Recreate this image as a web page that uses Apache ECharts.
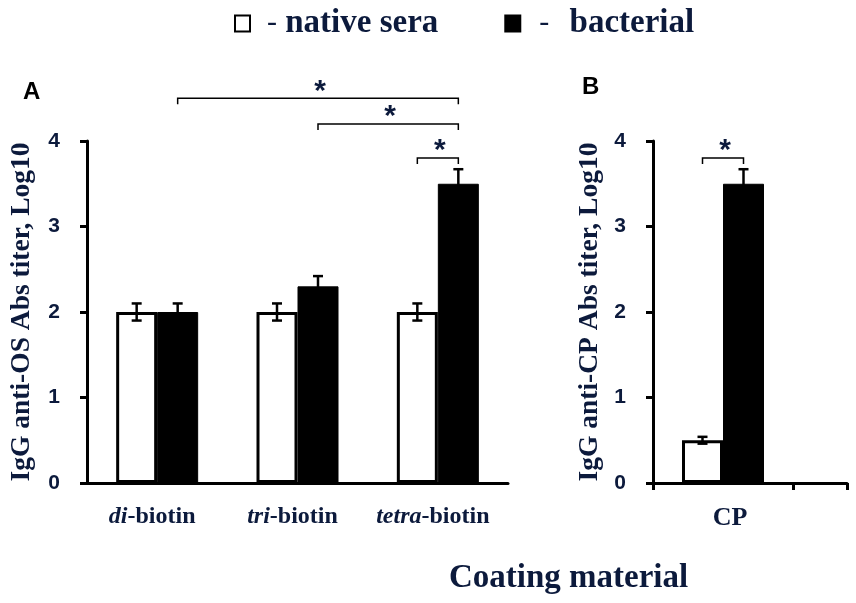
<!DOCTYPE html>
<meta charset="utf-8">
<style>
html, body { margin: 0; padding: 0; background: #fff; }
#main { width: 856px; height: 603px; }
</style>

<div id="main"></div>

<script src="https://cdn.jsdelivr.net/npm/echarts@6/dist/echarts.min.js"></script>
<script>

var seriesNames = ['native sera', 'bacterial'];
var yTicks = [0, 1, 2, 3, 4];

// panel A - oligosaccharide conjugates
var categoriesA = ['di-biotin', 'tri-biotin', 'tetra-biotin'];
var nativeA = [2.0, 2.0, 2.0];
var nativeErrA = [0.1, 0.1, 0.1];
var bacterialA = [2.0, 2.3, 3.5];
var bacterialErrA = [0.1, 0.12, 0.17];
// [category, series] to [category, series], bracket height (Log10)
var bracketsA = [
    [0, 1, 2, 1, 4.5],
    [1, 1, 2, 1, 4.2],
    [2, 0, 2, 1, 3.8]
];

// panel B - capsular polysaccharide
var categoriesB = ['CP'];
var nativeB = [0.5];
var nativeErrB = [0.04];
var bacterialB = [3.5];
var bacterialErrB = [0.17];
var bracketsB = [
    [0, 0, 0, 1, 3.8]
];

var BAR_W = 41;
var TXT = '#0c1a3c';
var SERIF = '"Liberation Serif", "Times New Roman", serif';
var SANS = '"Liberation Sans", Arial, sans-serif';

function errData(vals, errs, side) {
    return vals.map(function (v, i) { return [i, v, errs[i], side]; });
}

// shift = 0 on the category axis, 0.5 on panel B value axis
function errorRender(shift) {
    return function (params, api) {
        var cat = api.value(0) + shift, v = api.value(1), e = api.value(2);
        var off = (api.value(3) === 0 ? -1 : 1) * BAR_W / 2;
        var top = api.coord([cat, v + e]);
        var bot = api.coord([cat, v - e]);
        var x = top[0] + off;
        var st = { stroke: '#000', lineWidth: 2.5 };
        return {
            type: 'group',
            children: [
                { type: 'line', shape: { x1: x, y1: top[1], x2: x, y2: bot[1] }, style: st },
                { type: 'line', shape: { x1: x - 5, y1: top[1], x2: x + 5, y2: top[1] }, style: st },
                { type: 'line', shape: { x1: x - 5, y1: bot[1], x2: x + 5, y2: bot[1] }, style: st }
            ]
        };
    };
}

function bracketRender(shift) {
    return function (params, api) {
        var l = api.coord([api.value(0) + shift, api.value(4)]);
        var r = api.coord([api.value(2) + shift, api.value(4)]);
        var x1 = l[0] + (api.value(1) === 0 ? -1 : 1) * BAR_W / 2;
        var x2 = r[0] + (api.value(3) === 0 ? -1 : 1) * BAR_W / 2;
        var y = l[1];
        return {
            type: 'group',
            children: [
                {
                    type: 'polyline',
                    shape: { points: [[x1, y + 6], [x1, y], [x2, y], [x2, y + 6]] },
                    style: { stroke: '#000', lineWidth: 1.5, fill: null }
                },
                {
                    type: 'text', x: (x1 + x2) / 2 + 2, y: y - 7,
                    style: { text: '*', font: 'bold 30px ' + SANS, fill: TXT, textAlign: 'center', textVerticalAlign: 'middle' }
                }
            ]
        };
    };
}

var yAxisBase = {
    type: 'value', min: 0, max: 4, interval: 1,
    nameLocation: 'middle', nameRotate: 90,
    nameTextStyle: { fontFamily: SERIF, fontWeight: 'bold', fontSize: 27.5, color: TXT },
    axisLine: { show: true, lineStyle: { color: '#000', width: 3 } },
    axisTick: { show: true, length: 7, lineStyle: { color: '#000', width: 3 } },
    axisLabel: { margin: 27, fontFamily: SANS, fontWeight: 'bold', fontSize: 21, color: TXT },
    splitLine: { show: false }
};

var maxB = 194 / 140;

var chart = echarts.init(document.getElementById('main'));

chart.setOption({
    animation: false,
    backgroundColor: '#fff',
    legend: {
        data: seriesNames,
        left: 229, top: 2,
        icon: 'rect', itemWidth: 15, itemHeight: 16, itemGap: 66,
        formatter: function (name) {
            return (name === seriesNames[0] ? '{d|-} ' : '{d2|-} ') + name;
        },
        textStyle: {
            fontFamily: SERIF, fontWeight: 'bold', fontSize: 33, color: TXT,
            rich: {
                d: { fontFamily: SERIF, fontWeight: 'normal', fontSize: 30, color: TXT, padding: [0, 0, 0, 12] },
                d2: { fontFamily: SERIF, fontWeight: 'normal', fontSize: 30, color: TXT, padding: [0, 12, 0, 14] }
            }
        }
    },
    graphic: [
        { type: 'text', left: 23, top: 80, style: { text: 'A', font: 'bold 24px ' + SANS, fill: '#000' } },
        { type: 'text', left: 582, top: 75, style: { text: 'B', font: 'bold 24px ' + SANS, fill: '#000' } },
        { type: 'text', left: 449, top: 562, style: { text: 'Coating material', font: 'bold 33px ' + SERIF, fill: TXT } }
    ],
    grid: [
        { left: 87, top: 141, width: 421, height: 342 },
        { left: 653, top: 141, width: 194, height: 342 }
    ],
    xAxis: [
        {
            gridIndex: 0, type: 'category', data: categoriesA,
            axisLine: { lineStyle: { color: '#000', width: 3 } },
            axisTick: { length: 7, lineStyle: { color: '#000', width: 3 } },
            axisLabel: {
                interval: 0, hideOverlap: false,
                margin: 22, color: TXT, fontFamily: SERIF, fontWeight: 'bold', fontSize: 24,
                padding: [0, 10, 0, 0],
                formatter: function (v) {
                    var p = v.split('-');
                    return '{i|' + p[0] + '}-' + p[1];
                },
                rich: { i: { fontStyle: 'italic', fontFamily: SERIF, fontWeight: 'bold', fontSize: 24, color: TXT } }
            }
        },
        {
            gridIndex: 1, type: 'value', min: 0, max: maxB, interval: 1,
            axisLine: { show: true, onZero: false, lineStyle: { color: '#000', width: 3 } },
            axisTick: { show: true, length: 7, customValues: [0, 1, maxB], lineStyle: { color: '#000', width: 3 } },
            axisLabel: {
                margin: 22, color: TXT, fontFamily: SERIF, fontWeight: 'bold', fontSize: 26,
                padding: [0, 0, 0, 14],
                customValues: [0.5],
                formatter: function () { return categoriesB[0]; }
            },
            splitLine: { show: false }
        }
    ],
    yAxis: [
        Object.assign({}, yAxisBase, { gridIndex: 0, name: 'IgG anti-OS Abs titer, Log10', nameGap: 51 }),
        Object.assign({}, yAxisBase, { gridIndex: 1, name: 'IgG anti-CP Abs titer, Log10', nameGap: 49 })
    ],
    series: [
        {
            name: seriesNames[0], type: 'bar', xAxisIndex: 0, yAxisIndex: 0,
            data: nativeA, barWidth: BAR_W, barGap: '0%',
            itemStyle: { color: '#fff', borderColor: '#000', borderWidth: 3 }
        },
        {
            name: seriesNames[1], type: 'bar', xAxisIndex: 0, yAxisIndex: 0,
            data: bacterialA, barWidth: BAR_W, barGap: '0%',
            itemStyle: { color: '#000', borderColor: '#000', borderWidth: 1 }
        },
        {
            name: seriesNames[0], type: 'bar', xAxisIndex: 1, yAxisIndex: 1,
            data: nativeB.map(function (v, i) { return [i + 0.5, v]; }), barWidth: BAR_W, barGap: '0%',
            itemStyle: { color: '#fff', borderColor: '#000', borderWidth: 3 }
        },
        {
            name: seriesNames[1], type: 'bar', xAxisIndex: 1, yAxisIndex: 1,
            data: bacterialB.map(function (v, i) { return [i + 0.5, v]; }), barWidth: BAR_W, barGap: '0%',
            itemStyle: { color: '#000', borderColor: '#000', borderWidth: 1 }
        },
        {
            type: 'custom', xAxisIndex: 0, yAxisIndex: 0, clip: false, z: 5,
            renderItem: errorRender(0),
            encode: { x: 0, y: 1 },
            data: errData(nativeA, nativeErrA, 0).concat(errData(bacterialA, bacterialErrA, 1))
        },
        {
            type: 'custom', xAxisIndex: 1, yAxisIndex: 1, clip: false, z: 5,
            renderItem: errorRender(0.5),
            encode: { x: 0, y: 1 },
            data: errData(nativeB, nativeErrB, 0).concat(errData(bacterialB, bacterialErrB, 1))
        },
        {
            type: 'custom', xAxisIndex: 0, yAxisIndex: 0, clip: false, z: 5,
            renderItem: bracketRender(0),
            encode: { x: 0, y: 4 },
            data: bracketsA
        },
        {
            type: 'custom', xAxisIndex: 1, yAxisIndex: 1, clip: false, z: 5,
            renderItem: bracketRender(0.5),
            encode: { x: 0, y: 4 },
            data: bracketsB
        }
    ]
});

</script>
